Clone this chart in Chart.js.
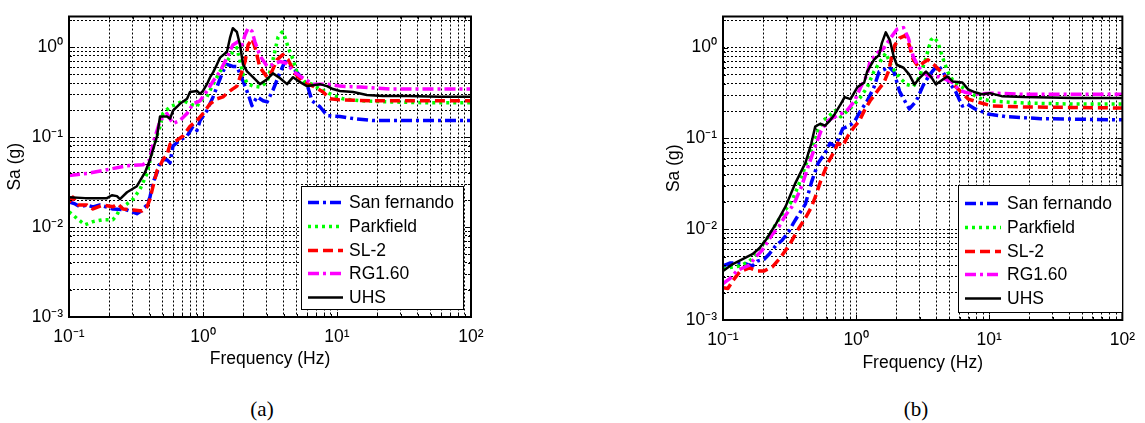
<!DOCTYPE html>
<html><head><meta charset="utf-8">
<script src="https://cdn.jsdelivr.net/npm/chart.js@4.4.0/dist/chart.umd.min.js"></script>
<style>
html,body{margin:0;padding:0;background:#fff;}
body{width:1145px;height:423px;position:relative;overflow:hidden;}
canvas{position:absolute;top:0;}
#ca{left:0;}
#cb{left:572px;}
.cap{position:absolute;font-family:"Liberation Serif","Times New Roman",serif;font-size:21px;line-height:21px;top:399px;transform:translateX(-50%);color:#000;}
</style></head><body>
<canvas id="ca" width="572" height="390"></canvas>
<canvas id="cb" width="573" height="390"></canvas>
<div class="cap" style="left:262px">(a)</div>
<div class="cap" style="left:916px">(b)</div>
<script>
// ---------- axis / tick definitions ----------
const xMin = 0.1, xMax = 100, yMin = 0.001, yMax = 2.2;
const xMajor = [0.1, 1, 10, 100];
const xMajorLabels = ['10\u207B\u00B9', '10\u2070', '10\u00B9', '10\u00B2'];
const yMajor = [0.001, 0.01, 0.1, 1];
const yMajorLabels = ['10\u207B\u00B3', '10\u207B\u00B2', '10\u207B\u00B9', '10\u2070'];
const minorSteps = [1, 2, 3, 4, 5, 6, 7, 8, 9];
const seriesNames = ['San fernando', 'Parkfield', 'SL-2', 'RG1.60', 'UHS'];

// ---------- data, chart (a) ----------
const aSF_f  = [0.1,0.111,0.121,0.136,0.151,0.17,0.213,0.271,0.321,0.339,0.382,0.402,0.424,0.454,0.478,0.502,0.538,0.568,0.597,0.673,0.76,0.842,0.902,0.951,1.07,1.19,1.27,1.41,1.51,1.67,1.79,1.99,2.17,2.32,2.53,2.81,3.01,3.33,3.76,4.09,4.46,5.03,5.97,6.51,7.46,8.42,10.5,13.2,18.6,33.3,100];
const aSF_sa = [0.019,0.0181,0.0168,0.0176,0.0168,0.0176,0.0159,0.0155,0.0141,0.0148,0.0176,0.0215,0.0314,0.0405,0.052,0.0561,0.0561,0.052,0.0798,0.0927,0.103,0.132,0.119,0.153,0.197,0.281,0.361,0.54,0.644,0.612,0.612,0.42,0.303,0.224,0.281,0.254,0.247,0.335,0.526,0.695,0.628,0.526,0.389,0.254,0.218,0.174,0.17,0.161,0.153,0.153,0.153];
const aPF_f  = [0.1,0.107,0.115,0.132,0.151,0.18,0.213,0.228,0.24,0.271,0.301,0.339,0.382,0.424,0.478,0.502,0.568,0.64,0.71,0.8,0.902,0.951,1.07,1.19,1.34,1.51,1.67,1.79,1.89,1.99,2.13,2.36,2.66,3.01,3.33,3.63,3.89,4.09,4.31,4.7,5.03,5.77,6.51,7.46,8.87,11.1,14.9,24.9,43.8,100];
const aPF_sa = [0.0148,0.0137,0.0124,0.0106,0.0115,0.0121,0.0121,0.0137,0.0159,0.0181,0.0205,0.0264,0.0395,0.0759,0.132,0.183,0.218,0.235,0.254,0.235,0.218,0.254,0.281,0.389,0.54,0.695,0.893,0.989,0.695,0.5,0.399,0.37,0.361,0.409,0.73,1.3,1.48,1.3,1.01,0.73,0.526,0.409,0.389,0.343,0.303,0.267,0.254,0.247,0.242,0.242];
const aSL_f  = [0.1,0.107,0.117,0.136,0.151,0.18,0.213,0.232,0.253,0.301,0.351,0.382,0.402,0.424,0.454,0.478,0.502,0.538,0.568,0.64,0.71,0.8,0.902,1.0,1.13,1.27,1.41,1.59,1.79,1.89,2.06,2.17,2.32,2.44,2.66,3.01,3.27,3.57,3.95,4.31,4.86,5.57,6.62,7.87,8.87,10.5,18.6,100];
const aSL_sa = [0.019,0.0215,0.0176,0.0176,0.0159,0.0176,0.0168,0.0181,0.0159,0.0155,0.0151,0.0168,0.0205,0.0285,0.0425,0.0482,0.0561,0.0635,0.0837,0.0927,0.103,0.132,0.153,0.183,0.235,0.267,0.281,0.327,0.37,0.465,0.695,1.06,1.24,1.01,0.597,0.465,0.54,0.73,0.828,0.73,0.513,0.409,0.37,0.318,0.267,0.26,0.254,0.254];
const aRG_f  = [0.1,0.136,0.192,0.271,0.356,0.402,0.424,0.454,0.478,0.538,0.597,0.673,0.76,0.842,0.951,1.07,1.19,1.34,1.51,1.67,1.82,1.95,2.06,2.17,2.32,2.44,2.66,3.01,3.33,3.76,4.24,4.7,5.3,6.62,8.42,10.5,14.9,24.9,100];
const aRG_sa = [0.0375,0.0395,0.0435,0.0482,0.0494,0.0561,0.0859,0.119,0.153,0.183,0.142,0.153,0.183,0.235,0.254,0.327,0.42,0.54,0.767,1.06,1.15,1.06,1.37,1.63,1.51,1.15,0.807,0.612,0.644,0.695,0.661,0.54,0.477,0.389,0.389,0.37,0.361,0.343,0.343];
const aUHS_f  = [0.1,0.132,0.17,0.192,0.209,0.228,0.24,0.271,0.321,0.369,0.402,0.454,0.478,0.538,0.568,0.597,0.673,0.76,0.8,0.902,0.951,1.0,1.07,1.13,1.19,1.27,1.34,1.51,1.59,1.67,1.79,1.89,1.99,2.13,2.36,2.66,3.01,3.33,3.76,4.24,4.7,5.3,5.97,6.62,7.46,8.42,9.33,10.5,13.2,16.7,22,33.3,58.7,100];
const aUHS_sa = [0.0215,0.021,0.021,0.021,0.0226,0.0221,0.0205,0.0244,0.0285,0.0405,0.0561,0.103,0.17,0.17,0.161,0.197,0.235,0.267,0.318,0.327,0.303,0.327,0.389,0.465,0.526,0.644,0.767,0.893,1.27,1.63,1.48,1.06,0.644,0.54,0.465,0.389,0.442,0.513,0.453,0.389,0.465,0.409,0.37,0.379,0.389,0.37,0.343,0.327,0.318,0.295,0.288,0.288,0.281,0.281];

// ---------- data, chart (b) ----------
const bSF_f  = [0.1,0.1126,0.1268,0.1503,0.1664,0.181,0.204,0.222,0.25,0.277,0.312,0.339,0.369,0.416,0.461,0.519,0.584,0.636,0.692,0.728,0.793,0.893,0.972,1.08,1.21,1.36,1.49,1.62,1.76,1.92,2.12,2.39,2.51,2.83,3.19,3.53,4.11,4.48,4.95,5.58,6.28,6.84,7.83,9.77,13.7,24.4,100];
const bSF_sa = [0.00393,0.00424,0.00424,0.00413,0.00393,0.00445,0.00468,0.0053,0.00663,0.00751,0.0094,0.01176,0.01435,0.0189,0.0326,0.0537,0.0688,0.0883,0.082,0.0951,0.128,0.138,0.153,0.201,0.258,0.365,0.543,0.571,0.616,0.543,0.33,0.239,0.211,0.258,0.384,0.492,0.647,0.543,0.424,0.33,0.227,0.239,0.211,0.186,0.173,0.165,0.16];
const bPF_f  = [0.1,0.107,0.1334,0.158,0.178,0.197,0.222,0.25,0.286,0.328,0.369,0.416,0.461,0.519,0.565,0.614,0.692,0.766,0.863,0.972,1.08,1.21,1.36,1.51,1.67,1.85,2.12,2.39,2.69,2.98,3.35,3.65,3.84,4.11,4.48,4.87,5.39,6.28,7.44,8.82,10.5,18.3,42.8,100];
const bPF_sa = [0.00365,0.00374,0.00393,0.00445,0.0053,0.00663,0.0085,0.01147,0.01546,0.0203,0.0303,0.0498,0.0742,0.122,0.157,0.173,0.201,0.173,0.201,0.239,0.285,0.365,0.543,0.697,0.872,0.616,0.468,0.393,0.374,0.468,0.77,1.21,1.3,1.15,0.77,0.543,0.424,0.365,0.306,0.271,0.258,0.245,0.239,0.239];
const bSL_f  = [0.1,0.1088,0.1185,0.1334,0.158,0.181,0.204,0.234,0.268,0.317,0.369,0.416,0.461,0.493,0.546,0.614,0.692,0.728,0.793,0.863,0.972,1.06,1.15,1.27,1.44,1.62,1.76,1.85,1.95,2.12,2.35,2.51,2.69,2.93,3.19,3.47,3.84,4.33,4.87,5.39,6.07,6.95,8.24,10.5,18.3,100];
const bSL_sa = [0.00227,0.00222,0.00271,0.00339,0.00374,0.00347,0.00347,0.00383,0.0048,0.0068,0.0101,0.0133,0.0175,0.0225,0.0351,0.0537,0.0742,0.0883,0.082,0.105,0.135,0.157,0.201,0.258,0.33,0.413,0.557,0.789,1.06,1.27,1.36,1.06,0.733,0.616,0.68,0.733,0.647,0.543,0.446,0.393,0.33,0.271,0.251,0.227,0.222,0.216];
const bRG_f  = [0.1,0.1126,0.1268,0.1404,0.158,0.178,0.197,0.234,0.263,0.296,0.328,0.351,0.389,0.438,0.493,0.546,0.614,0.692,0.766,0.863,0.972,1.08,1.21,1.27,1.44,1.62,1.79,2.02,2.27,2.47,2.69,2.98,3.35,3.78,4.18,4.71,5.3,5.87,6.61,7.83,10.5,18.3,100];
const bRG_sa = [0.00251,0.00285,0.00347,0.00374,0.00403,0.00504,0.00586,0.00872,0.01064,0.01435,0.0175,0.0208,0.0295,0.0498,0.082,0.122,0.157,0.173,0.186,0.206,0.258,0.365,0.504,0.697,0.872,0.988,1.24,1.585,1.66,1.27,0.789,0.6,0.504,0.468,0.48,0.446,0.413,0.347,0.322,0.306,0.315,0.306,0.306];
const bUHS_f  = [0.1,0.1185,0.1404,0.1664,0.1874,0.211,0.25,0.296,0.351,0.416,0.461,0.493,0.537,0.584,0.636,0.692,0.766,0.82,0.908,1.02,1.15,1.21,1.36,1.49,1.56,1.67,1.79,1.92,2.02,2.27,2.51,2.74,2.98,3.35,3.65,3.97,4.48,4.87,5.3,6.28,6.95,7.83,8.82,10.1,12.4,18.3,42.8,100];
const bUHS_sa = [0.00347,0.00413,0.00468,0.0053,0.00616,0.0077,0.01147,0.01795,0.0326,0.0537,0.0883,0.135,0.145,0.138,0.157,0.186,0.239,0.285,0.271,0.365,0.413,0.543,0.733,0.83,1.12,1.47,1.21,0.789,0.647,0.6,0.504,0.393,0.457,0.543,0.48,0.393,0.446,0.48,0.424,0.413,0.347,0.322,0.306,0.315,0.292,0.285,0.278,0.278];

// ---------- styles ----------
const FONT = 'Liberation Sans, Arial, Helvetica, sans-serif';
const FS = 17.5;
const seriesColors = ['#0000ff', '#00ff00', '#ff0000', '#ff00ff', '#000000'];
const seriesWidths = [3.5, 3.5, 3.5, 3.5, 2.5];
const seriesDashes = [[11, 4, 3, 4], [3, 4], [10, 5], [11, 4, 3, 4], []];

function buildTickList(majors, maxV) {
  const out = [];
  majors.forEach(d => minorSteps.forEach(m => {
    const v = parseFloat((d * m).toPrecision(6));
    if (v <= maxV * 1.000001) out.push(v);
  }));
  return out;
}
const xTicks = buildTickList(xMajor, xMax);
const yTicks = buildTickList(yMajor, yMax);
function majorIndex(v, majors) { return majors.findIndex(m => Math.abs(v / m - 1) < 1e-6); }

function zip(f, s) { const n = Math.min(f.length, s.length); const o = []; for (let i = 0; i < n; i++) o.push({x: f[i], y: s[i]}); return o; }

const framePlugin = {
  id: 'frame',
  afterDatasetsDraw(chart) {
    const {ctx, chartArea: a, scales: {x, y}} = chart;
    ctx.save();
    ctx.strokeStyle = '#000';
    ctx.lineWidth = 1;
    ctx.setLineDash([]);
    ctx.beginPath();
    x.ticks.forEach(t => {
      const p = Math.round(x.getPixelForValue(t.value)) + 0.5;
      const L = majorIndex(t.value, xMajor) >= 0 ? 5 : 3;
      ctx.moveTo(p, a.bottom); ctx.lineTo(p, a.bottom - L);
      ctx.moveTo(p, a.top); ctx.lineTo(p, a.top + L);
    });
    y.ticks.forEach(t => {
      const p = Math.round(y.getPixelForValue(t.value)) + 0.5;
      const L = majorIndex(t.value, yMajor) >= 0 ? 5 : 3;
      ctx.moveTo(a.left, p); ctx.lineTo(a.left + L, p);
      ctx.moveTo(a.right, p); ctx.lineTo(a.right - L, p);
    });
    ctx.stroke();
    ctx.lineWidth = 2;
    ctx.strokeRect(a.left, a.top, a.right - a.left, a.bottom - a.top);
    ctx.restore();
  }
};

function makeLegend(box) {
  return {
    id: 'boxLegend',
    afterDraw(chart) {
      const ctx = chart.ctx;
      ctx.save();
      ctx.fillStyle = '#fff';
      ctx.fillRect(box.x, box.y, box.w, box.h);
      ctx.strokeStyle = '#000';
      ctx.lineWidth = 1;
      ctx.setLineDash([]);
      ctx.strokeRect(box.x + 0.5, box.y + 0.5, box.w, box.h);
      chart.data.datasets.forEach((ds, i) => {
        const cy = Math.round(box.y + box.first + i * box.step) + 0.5;
        ctx.beginPath();
        ctx.setLineDash(ds.borderDash || []);
        ctx.strokeStyle = ds.borderColor;
        ctx.lineWidth = ds.borderWidth;
        ctx.moveTo(box.x + box.l0, cy);
        ctx.lineTo(box.x + box.l1, cy);
        ctx.stroke();
        ctx.setLineDash([]);
        ctx.fillStyle = '#000';
        ctx.font = FS + 'px ' + FONT;
        ctx.textBaseline = 'middle';
        ctx.textAlign = 'left';
        ctx.fillText(ds.label, box.x + box.tx, cy + 1);
      });
      ctx.restore();
    }
  };
}

function makeChart(id, series, geo) {
  const datasets = seriesNames.map((name, i) => ({
    label: name,
    data: zip(series[i][0], series[i][1]),
    borderColor: seriesColors[i],
    borderWidth: seriesWidths[i],
    borderDash: seriesDashes[i],
    borderCapStyle: 'butt',
    borderJoinStyle: 'round',
    pointRadius: 0,
    tension: 0,
    fill: false,
    order: seriesNames.length - i
  }));
  const gridOpts = {color: '#000', lineWidth: 1, drawTicks: false};
  const borderOpts = {display: false, dash: [2, 2]};
  return new Chart(document.getElementById(id), {
    type: 'line',
    data: {datasets},
    options: {
      responsive: false,
      animation: false,
      devicePixelRatio: 1,
      layout: {padding: geo.pad},
      plugins: {legend: {display: false}, tooltip: {enabled: false}},
      scales: {
        x: {
          type: 'logarithmic', position: 'bottom', min: xMin, max: xMax,
          afterBuildTicks: s => { s.ticks = xTicks.map(v => ({value: v})); },
          afterFit: s => { s.height = geo.xH; },
          grid: gridOpts, border: borderOpts,
          ticks: {autoSkip: false, maxRotation: 0, padding: 10, color: '#000', font: {family: FONT, size: FS},
                  callback: v => { const i = majorIndex(v, xMajor); return i >= 0 ? xMajorLabels[i] : ''; }},
          title: {display: true, text: 'Frequency (Hz)', color: '#000', font: {family: FONT, size: FS}, padding: {top: 0, bottom: geo.xTitlePad}}
        },
        y: {
          type: 'logarithmic', position: 'left', min: yMin, max: yMax,
          afterBuildTicks: s => { s.ticks = yTicks.map(v => ({value: v})); },
          afterFit: s => { s.width = geo.yW; },
          grid: gridOpts, border: borderOpts,
          ticks: {autoSkip: false, padding: 6, color: '#000', font: {family: FONT, size: FS},
                  callback: v => { const i = majorIndex(v, yMajor); return i >= 0 ? yMajorLabels[i] : ''; }},
          title: {display: true, text: 'Sa (g)', color: '#000', font: {family: FONT, size: FS}, padding: {top: geo.yTitlePad, bottom: 0}}
        }
      }
    },
    plugins: [framePlugin, makeLegend(geo.legend)]
  });
}

makeChart('ca', [[aSF_f, aSF_sa], [aPF_f, aPF_sa], [aSL_f, aSL_sa], [aRG_f, aRG_sa], [aUHS_f, aUHS_sa]], {
  pad: {left: 0, top: 11, right: 101, bottom: 0}, xH: 73, yW: 69, xTitlePad: 20, yTitlePad: 5,
  legend: {x: 301, y: 186, w: 162, h: 123, first: 16, step: 23.75, l0: 7, l1: 42, tx: 48}
});
makeChart('cb', [[bSF_f, bSF_sa], [bPF_f, bPF_sa], [bSL_f, bSL_sa], [bRG_f, bRG_sa], [bUHS_f, bUHS_sa]], {
  pad: {left: 82, top: 11, right: 15, bottom: 0}, xH: 70, yW: 69, xTitlePad: 16.5, yTitlePad: 9.5,
  legend: {x: 386, y: 185, w: 164, h: 127, first: 18, step: 23.75, l0: 7, l1: 43, tx: 49}
});
</script>
</body></html>
